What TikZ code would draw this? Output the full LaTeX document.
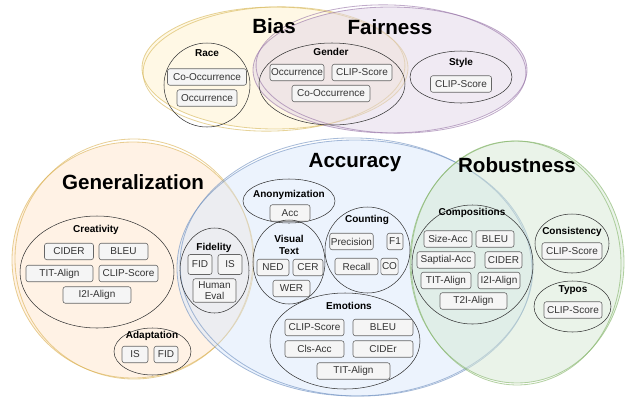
\documentclass[tikz,border=0pt]{standalone}
\usepackage{fontspec}
\setmainfont{Liberation Sans}
\usetikzlibrary{positioning, shapes}

\definecolor{biasfill}{HTML}{FFF2CC}
\definecolor{biasline}{HTML}{D6B656}
\definecolor{fairfill}{HTML}{E1D5E7}
\definecolor{fairline}{HTML}{9673A6}
\definecolor{genfill}{HTML}{FFE6CC}
\definecolor{genline}{HTML}{DAB050}
\definecolor{accfill}{HTML}{DAE8FC}
\definecolor{accline}{HTML}{6C8EBF}
\definecolor{robfill}{HTML}{D5E8D4}
\definecolor{robline}{HTML}{82B366}
\definecolor{grpline}{HTML}{333333}
\definecolor{boxfill}{HTML}{F5F5F5}
\definecolor{boxline}{HTML}{666666}
\definecolor{boxtext}{HTML}{333333}

\begin{document}
\begin{tikzpicture}[x=0.85pt, y=-0.85pt,
	region/.style={fill=#1, fill opacity=0.5},
	rim/.style={draw=#1, draw opacity=0.6, line width=0.7pt},
	area/.style={font=\fontsize{17.5}{20}\selectfont\bfseries, inner sep=0pt},
	group/.style 2 args={ellipse, draw=grpline, line width=0.45pt, inner sep=0pt, minimum width=#1*1.7pt, minimum height=#2*1.7pt},
	grouptitle/.style={font=\fontsize{8.5}{9.5}\selectfont\bfseries, inner sep=0pt, align=center},
	metric/.style={rectangle, rounded corners=2pt, draw=boxline, fill=boxfill, text=boxtext, line width=0.5pt, font=\fontsize{8.5}{9.5}\selectfont, inner xsep=1pt, inner ysep=0pt, minimum height=14pt, minimum width=#1*0.85pt, align=center}
	]
	\useasboundingbox (0,0) rectangle (626,402);

	%Regiões:
	\fill[region=biasfill] (275,68) ellipse [x radius=133, y radius=61];
	\draw[rim=biasline] (275,68) ellipse [x radius=133, y radius=61];
	\draw[rim=biasline] (274,69) ellipse [x radius=131, y radius=62, rotate=2];

	\fill[region=fairfill] (390,70) ellipse [x radius=137, y radius=63];
	\draw[rim=fairline] (390,70) ellipse [x radius=137, y radius=63];
	\draw[rim=fairline] (391,69) ellipse [x radius=135, y radius=64, rotate=-2];

	\fill[region=genfill] (133,260) ellipse [x radius=121, y radius=118];
	\draw[rim=genline] (133,260) ellipse [x radius=121, y radius=118];
	\draw[rim=genline] (134,259) ellipse [x radius=119, y radius=120, rotate=3];

	\fill[region=accfill] (355,268) ellipse [x radius=178, y radius=128];
	\draw[rim=accline] (355,268) ellipse [x radius=178, y radius=128];
	\draw[rim=accline] (356,267) ellipse [x radius=176, y radius=129, rotate=-2];

	\fill[region=robfill] (517,262) ellipse [x radius=107, y radius=121];
	\draw[rim=robline] (517,262) ellipse [x radius=107, y radius=121];
	\draw[rim=robline] (516,263) ellipse [x radius=105, y radius=122, rotate=2];

	\node[area] (bias) at (274,26) {Bias};
	\node[area] (fair) at (390,27) {Fairness};
	\node[area] (gen) at (133,182) {Generalization};
	\node[area] (acc) at (355,163) {Accuracy};
	\node[area] (rob) at (517,165) {Robustness};

	%Bias / Fairness
	\node[group={43}{42}] (race) at (207,85) {};
	\node[grouptitle] (race-t) at (207,53) {Race};
	\node[metric=79] (race-a) at (207,77) {Co-Occurrence};
	\node[metric=60] (race-b) at (207,98) {Occurrence};

	\node[group={73}{41}] (gender) at (332,84) {};
	\node[grouptitle] (gender-t) at (331,52) {Gender};
	\node[metric=54] (gender-a) at (297,72.5) {Occurrence};
	\node[metric=60] (gender-b) at (362,72.5) {CLIP-Score};
	\node[metric=78] (gender-c) at (331,93.5) {Co-Occurrence};

	\node[group={51}{26}] (style) at (461,77) {};
	\node[grouptitle] (style-t) at (461,63) {Style};
	\node[metric=61] (style-a) at (461,84) {CLIP-Score};

	%Generalization
	\node[group={77}{56}] (creat) at (97,272) {};
	\node[grouptitle] (creat-t) at (96,230) {Creativity};
	\node[metric=49] (creat-a) at (69,251.5) {CIDER};
	\node[metric=49] (creat-b) at (123.5,251.5) {BLEU};
	\node[metric=67] (creat-c) at (59.5,273.5) {TIT-Align};
	\node[metric=59] (creat-d) at (128.5,273.5) {CLIP-Score};
	\node[metric=68] (creat-e) at (97,295) {I2I-Align};

	\node[group={38.5}{23.5}] (adapt) at (152.5,351.5) {};
	\node[grouptitle] (adapt-t) at (152,336) {Adaptation};
	\node[metric=26] (adapt-a) at (135,354.5) {IS};
	\node[metric=24] (adapt-b) at (166,354.5) {FID};

	\node[group={34.5}{42.5}] (fid) at (214.5,270.5) {};
	\node[grouptitle] (fid-t) at (214,248) {Fidelity};
	\node[metric=24, minimum height=17pt] (fid-a) at (200,264.5) {FID};
	\node[metric=24, minimum height=17pt] (fid-b) at (230,264.5) {IS};
	\node[metric=43, minimum height=20pt] (fid-c) at (214.5,290.5) {Human\\Eval};

	%Accuracy
	\node[group={46}{22}] (anon) at (289,201) {};
	\node[grouptitle] (anon-t) at (289,195) {Anonymization};
	\node[metric=40] (anon-a) at (290,213) {Acc};

	\node[group={36}{42}] (vis) at (289,262) {};
	\node[grouptitle] (vis-t) at (289,245) {Visual\\Text};
	\node[metric=32] (vis-a) at (273,267.5) {NED};
	\node[metric=30] (vis-b) at (308,267.5) {CER};
	\node[metric=37] (vis-c) at (291.5,288.5) {WER};

	\node[group={42.5}{43}] (count) at (367.5,250) {};
	\node[grouptitle] (count-t) at (367,220) {Counting};
	\node[metric=43] (count-a) at (351.5,241.5) {Precision};
	\node[metric=16] (count-b) at (395,241.5) {F1};
	\node[metric=43] (count-c) at (356.5,266.5) {Recall};
	\node[metric=17] (count-d) at (389.5,266.5) {CO};

	\node[group={75}{48}] (emo) at (345,341) {};
	\node[grouptitle] (emo-t) at (349,306) {Emotions};
	\node[metric=59] (emo-a) at (314.5,327.5) {CLIP-Score};
	\node[metric=60] (emo-b) at (383,327.5) {BLEU};
	\node[metric=59] (emo-c) at (314.5,349) {Cls-Acc};
	\node[metric=60] (emo-d) at (383,349) {CIDEr};
	\node[metric=73] (emo-e) at (353.5,371) {TIT-Align};

	%Robustness
	\node[group={60.5}{59.5}] (comp) at (472.5,264.5) {};
	\node[grouptitle] (comp-t) at (472,213) {Compositions};
	\node[metric=48] (comp-a) at (448,239) {Size-Acc};
	\node[metric=38] (comp-b) at (495,239) {BLEU};
	\node[metric=58] (comp-c) at (446,260) {Saptial-Acc};
	\node[metric=37] (comp-d) at (503.5,260) {CIDER};
	\node[metric=50] (comp-e) at (446,280.5) {TIT-Align};
	\node[metric=42] (comp-f) at (499,280.5) {I2I-Align};
	\node[metric=67] (comp-g) at (473.5,301) {T2I-Align};

	\node[group={37}{29.5}] (cons) at (572,243.5) {};
	\node[grouptitle] (cons-t) at (572,232) {Consistency};
	\node[metric=60] (cons-a) at (572,251) {CLIP-Score};

	\node[group={38.5}{25.5}] (typo) at (572.5,306.5) {};
	\node[grouptitle] (typo-t) at (573,290) {Typos};
	\node[metric=58] (typo-a) at (573,310) {CLIP-Score};
\end{tikzpicture}
\end{document}
